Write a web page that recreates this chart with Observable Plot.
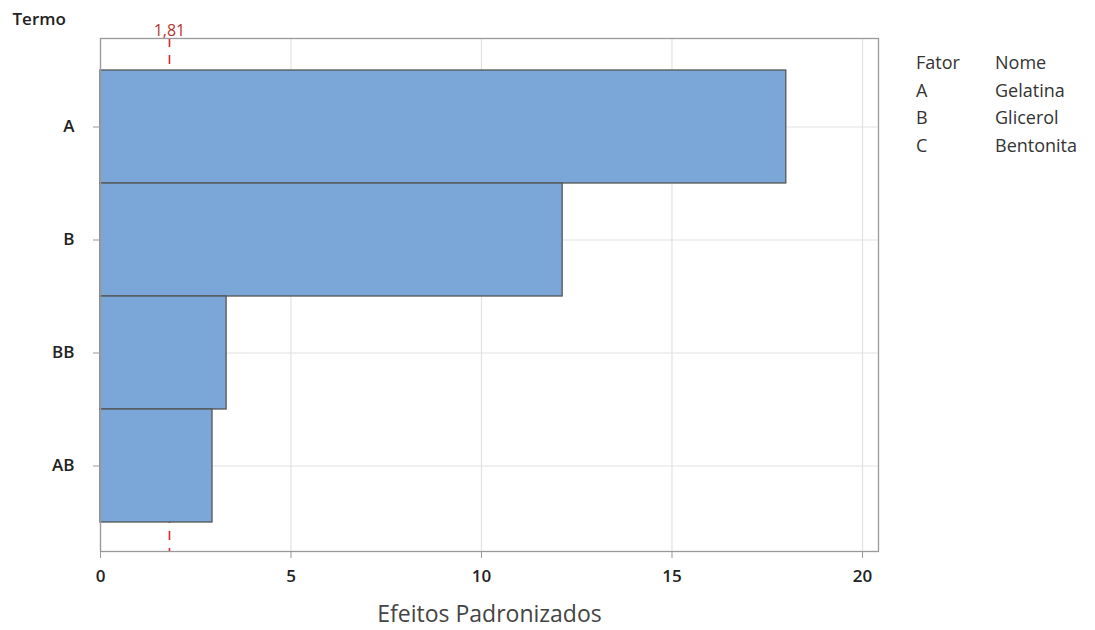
<!DOCTYPE html>
<html>
<head>
<meta charset="utf-8">
<script src="https://cdn.jsdelivr.net/npm/d3@7"></script>
<script src="https://cdn.jsdelivr.net/npm/@observablehq/plot@0.6"></script>
<style>
  html, body { margin: 0; padding: 0; background: #fff; }
  #wrap { position: relative; width: 1095px; height: 630px; font-family: "Open Sans", "Noto Sans", sans-serif; }
  #legend { position: absolute; left: 916px; top: 49px; font-size: 18px; color: #333; border-collapse: collapse; }
  #legend td { padding: 0; height: 27.7px; line-height: 27px; vertical-align: top; }
  #legend td.c1 { width: 79px; }
</style>
</head>
<body>
<div id="wrap">
  <div id="chart"></div>
  <table id="legend"></table>
</div>
<script>
const termos = ["A", "B", "BB", "AB"];
const efeitos = [18.0, 12.13, 3.31, 2.94];
const limiar = 1.81;
const limiarLabel = "1,81";
const xTicks = [0, 5, 10, 15, 20];
const legendHeader = ["Fator", "Nome"];
const fatores = ["A", "B", "C"];
const nomes = ["Gelatina", "Glicerol", "Bentonita"];
const yTitle = "Termo";
const xTitle = "Efeitos Padronizados";

const data = termos.map((t, i) => ({ termo: t, efeito: efeitos[i] }));

const chart = Plot.plot({
  width: 1095,
  height: 630,
  marginLeft: 100,
  marginRight: 217,
  marginTop: 38,
  marginBottom: 79,
  style: { fontFamily: "'Open Sans', 'Noto Sans', sans-serif", fontSize: "17px", color: "#222", background: "#fff" },
  x: { domain: [0, 20.42], label: null },
  y: { domain: termos, padding: 0, insetTop: 30, insetBottom: 28, label: null },
  marks: [
    Plot.gridX(xTicks, { stroke: "#e2e2e2", strokeOpacity: 1, strokeWidth: 1.2 }),
    Plot.gridY(termos, { stroke: "#e2e2e2", strokeOpacity: 1, strokeWidth: 1.2 }),
    Plot.ruleX([limiar], { stroke: "#d9262b", strokeWidth: 1.6, strokeDasharray: "9,8" }),
    Plot.barX(data, { x: "efeito", y: "termo", fill: "#7ba6d8", stroke: "#555", strokeWidth: 1.3 }),
    Plot.frame({ stroke: "#999", strokeWidth: 1.3 }),
    Plot.axisX({ ticks: xTicks, tickSize: 7, tickPadding: 11, stroke: "#999", fill: "#222", fontSize: 17, fontWeight: 600, label: null }),
    Plot.axisY({ tickSize: 7, tickPadding: 19, stroke: "#999", fill: "#222", fontSize: 17, fontWeight: 600, label: null }),
    Plot.text([limiarLabel], { x: [limiar], frameAnchor: "top", lineAnchor: "bottom", dy: -3, fill: "#b83232", fontSize: 16, fontWeight: 500 }),
    Plot.text([yTitle], { frameAnchor: "top-left", lineAnchor: "middle", dx: -88, dy: -19, fill: "#222", fontSize: 17, fontWeight: 600, textAnchor: "start" }),
    Plot.text([xTitle], { frameAnchor: "bottom", lineAnchor: "middle", dy: 63, fill: "#444", fontSize: 23 })
  ]
});
document.getElementById("chart").appendChild(chart);

const legend = d3.select("#legend");
const rows = [legendHeader, ...fatores.map((f, i) => [f, nomes[i]])];
legend.selectAll("tr").data(rows).join("tr")
  .selectAll("td").data(d => d).join("td")
  .attr("class", (d, i) => i === 0 ? "c1" : "c2")
  .text(d => d);
</script>
</body>
</html>
